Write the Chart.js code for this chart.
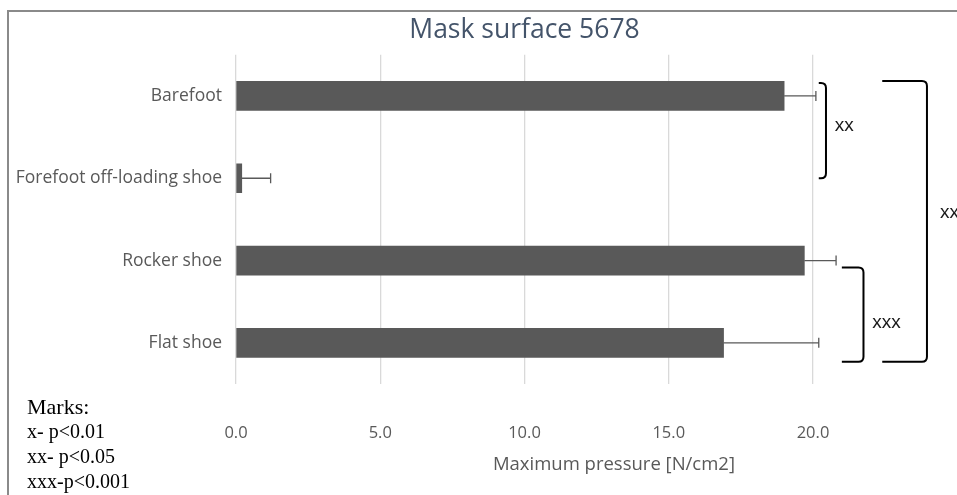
<!DOCTYPE html>
<html>
<head>
<meta charset="utf-8">
<script src="https://cdn.jsdelivr.net/npm/chart.js@4/dist/chart.umd.min.js"></script>
<style>
  html, body { margin: 0; padding: 0; background: #fff; }
  #wrap { position: relative; width: 957px; height: 495px; overflow: hidden; }
  #frame {
    position: absolute; left: 7px; top: 10px; right: -10px; bottom: -10px;
    border-left: 2px solid #8a8a8a; border-top: 2px solid #8a8a8a;
  }
  #marks {
    position: absolute; left: 27px; top: 394px;
    font-family: "Liberation Serif", "Times New Roman", serif;
    font-size: 20px; line-height: 25px; color: #000;
  }
  #marks .head { font-size: 22px; }
  canvas { position: absolute; left: 0; top: 0; }
</style>
</head>
<body>
<div id="wrap">
  <canvas id="chart" width="957" height="495"></canvas>
  <div id="frame"></div>
  <div id="marks">
    <div class="head">Marks:</div>
    <div>x- p&lt;0.01</div>
    <div>xx- p&lt;0.05</div>
    <div>xxx-p&lt;0.001</div>
  </div>
</div>
<script>
// Chart data
const categories = ['Barefoot', 'Forefoot off-loading shoe', 'Rocker shoe', 'Flat shoe'];
const pressureMeans = [19.0, 0.2, 19.7, 16.9];
const pressureErrors = [1.1, 1.0, 1.1, 3.3];
const xTickValues = [0, 5, 10, 15, 20];

// Significance comparisons (category index pairs)
const sigFrom = [0, 2, 0];
const sigTo = [1, 3, 3];
const sigLabels = ['xx', 'xxx', 'xx'];

// Drawing geometry for each bracket (value units on x, pixel offsets on y)
const bracketStyle = [
  { x0: 20.2, x1: 20.45, top: -13, bottom: 0, labelX: 20.75, labelDy: -5 },
  { x0: 21.0, x1: 21.75, top: 7, bottom: 19, labelX: 22.05, labelDy: 8 },
  { x0: 22.4, x1: 23.95, top: -15, bottom: 19, labelX: 24.4, labelDy: -9 }
];

// Error bars drawn on top of the bars, not clipped to the plot area
const errorBars = {
  id: 'errorBars',
  afterDatasetsDraw(chart) {
    const { ctx, scales: { x, y } } = chart;
    ctx.save();
    ctx.strokeStyle = '#595959';
    ctx.lineWidth = 1.3;
    pressureMeans.forEach((v, i) => {
      const cy = y.getPixelForValue(i);
      const x0 = x.getPixelForValue(v);
      const x1 = x.getPixelForValue(v + pressureErrors[i]);
      ctx.beginPath();
      ctx.moveTo(x0, cy);
      ctx.lineTo(x1, cy);
      ctx.moveTo(x1, cy - 5);
      ctx.lineTo(x1, cy + 5);
      ctx.stroke();
    });
    ctx.restore();
  }
};

// Significance brackets and the offset axis title
const annotations = {
  id: 'annotations',
  afterDraw(chart) {
    const { ctx, chartArea, scales: { x, y } } = chart;
    ctx.save();
    ctx.strokeStyle = '#000';
    ctx.lineWidth = 2;
    ctx.fillStyle = '#1a1a1a';
    ctx.font = '19px "Liberation Sans"';
    ctx.textBaseline = 'middle';
    ctx.textAlign = 'left';
    sigFrom.forEach((from, i) => {
      const s = bracketStyle[i];
      const top = y.getPixelForValue(from) + s.top;
      const bottom = y.getPixelForValue(sigTo[i]) + s.bottom;
      const left = x.getPixelForValue(s.x0);
      const right = x.getPixelForValue(s.x1);
      const r = Math.min(5, right - left);
      ctx.beginPath();
      ctx.moveTo(left, top);
      ctx.lineTo(right - r, top);
      ctx.quadraticCurveTo(right, top, right, top + r);
      ctx.lineTo(right, bottom - r);
      ctx.quadraticCurveTo(right, bottom, right - r, bottom);
      ctx.lineTo(left, bottom);
      ctx.stroke();
      ctx.fillText(sigLabels[i], x.getPixelForValue(s.labelX), (top + bottom) / 2 + s.labelDy);
    });

    ctx.fillStyle = '#595959';
    ctx.font = '18.5px "Open Sans"';
    ctx.textAlign = 'center';
    ctx.fillText('Maximum pressure [N/cm2]', x.getPixelForValue(13.1), chartArea.bottom + 81);
    ctx.restore();
  }
};

new Chart(document.getElementById('chart'), {
  type: 'bar',
  data: {
    labels: categories,
    datasets: [{
      data: pressureMeans,
      backgroundColor: '#595959',
      barThickness: 29
    }]
  },
  options: {
    indexAxis: 'y',
    responsive: false,
    animation: false,
    layout: { padding: { left: 0, right: 144, top: 0, bottom: 0 } },
    plugins: {
      legend: { display: false },
      tooltip: { enabled: false },
      title: {
        display: true,
        text: 'Mask surface 5678',
        fullSize: false,
        color: '#44546A',
        font: { family: 'Open Sans', size: 26.5, weight: 'normal' },
        padding: { top: 15, bottom: 8 }
      }
    },
    scales: {
      x: {
        min: 0,
        max: 20,
        afterFit: (scale) => { scale.height = 111; },
        afterBuildTicks: (scale) => {
          scale.ticks = xTickValues.map(v => ({ value: v }));
        },
        border: { display: false },
        grid: { color: '#D9D9D9', lineWidth: 1.3, drawTicks: false },
        ticks: {
          color: '#595959',
          font: { family: 'Open Sans', size: 16.5 },
          padding: 39,
          callback: (v) => Number(v).toFixed(1)
        }
      },
      y: {
        afterFit: (scale) => { scale.width = 236; },
        border: { display: false },
        grid: { display: false, drawTicks: false },
        ticks: {
          color: '#595959',
          font: { family: 'Open Sans', size: 17.5 },
          padding: 14
        }
      }
    }
  },
  plugins: [errorBars, annotations]
});
</script>
</body>
</html>
